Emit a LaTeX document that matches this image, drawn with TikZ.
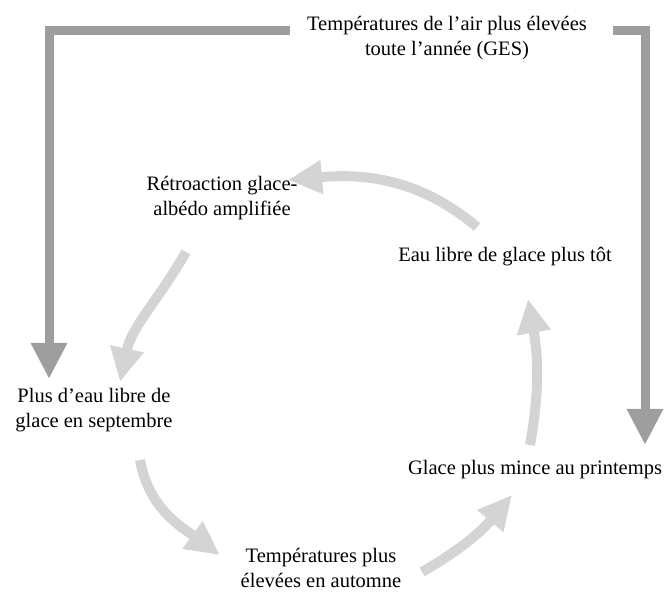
\documentclass[tikz,border=0pt]{standalone}
\usepackage{fontspec}
\setmainfont{Liberation Serif}
\definecolor{GrisFonce}{HTML}{9E9E9E}
\definecolor{GrisClair}{HTML}{D4D4D4}
\usetikzlibrary{arrows.meta}

\begin{document}
\begin{tikzpicture}[x=1pt, y=1pt,
    etiq/.style={font=\fontsize{20.5}{25}\selectfont, align=center, inner sep=0pt},
    forcage/.style={line width=9pt, GrisFonce, -{Triangle[length=36pt, width=34pt]}},
    boucle/.style={line width=10pt, GrisClair, -{Triangle[length=34pt, width=32pt]}}]
    \useasboundingbox (0,0) rectangle (669,592);

    % Labels
    \node[etiq] (ges) at (447,554) {Températures de l’air plus élevées\\toute l’année (GES)};
    \node[etiq] (retro) at (222,394) {Rétroaction glace-\\albédo amplifiée};
    \node[etiq] (eau) at (505,335) {Eau libre de glace plus tôt};
    \node[etiq] (plus) at (94,182) {Plus d’eau libre de\\glace en septembre};
    \node[etiq] (glace) at (535,122) {Glace plus mince au printemps};
    \node[etiq] (temp) at (321,24) {Températures plus\\élevées en automne};

    % Forcing from the top
    \draw[forcage] ([shift={(-157,7)}]ges.center) -| ([shift={(-45,31)}]plus.center);
    \draw[forcage] ([shift={(166,7)}]ges.center) -| ([shift={(110,25)}]glace.center);

    % Feedback loop
    \draw[boucle] ([shift={(-28,30)}]eau.center) to[out=140, in=5] ([shift={(66,18)}]retro.center);
    \draw[boucle] ([shift={(-36,-54)}]retro.center) to[out=240, in=78] ([shift={(26,28)}]plus.center);
    \draw[boucle] ([shift={(46,-50)}]plus.center) to[out=280, in=144] ([shift={(-101,13)}]temp.center);
    \draw[boucle] ([shift={(101,-4)}]temp.center) to[out=30, in=230] ([shift={(-23,-25)}]glace.center);
    \draw[boucle] ([shift={(-5,25)}]glace.center) to[out=80, in=280] ([shift={(23,-42)}]eau.center);
\end{tikzpicture}
\end{document}
